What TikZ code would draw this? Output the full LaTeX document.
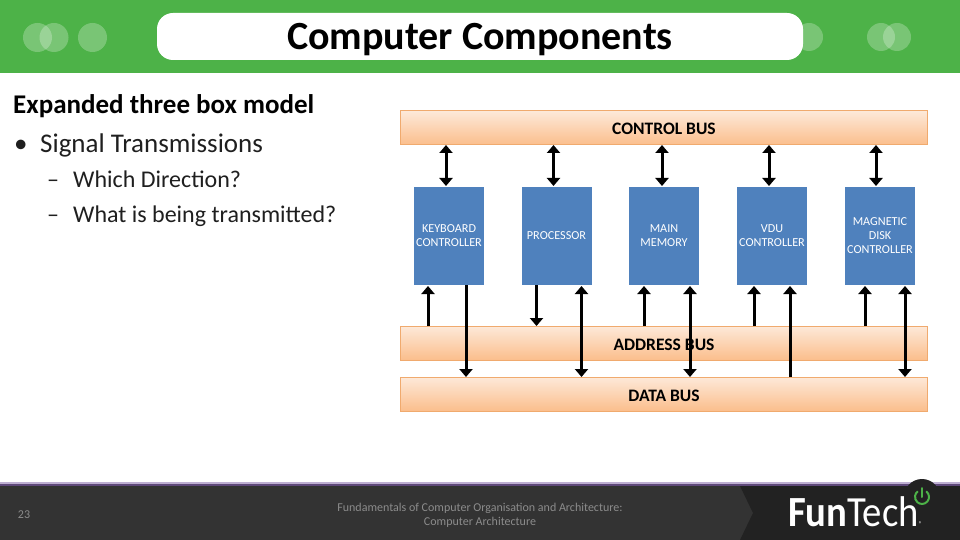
\documentclass[tikz,border=0pt]{standalone}
\usepackage{fontspec}
\setmainfont{Carlito}
\definecolor{ftgreen}{RGB}{77,178,72}
\definecolor{ftdark}{RGB}{51,51,51}
\definecolor{ftblack}{RGB}{34,34,34}
\definecolor{ftpurple}{RGB}{95,73,122}
\definecolor{ftlilac}{RGB}{190,175,210}
\definecolor{ftgray}{RGB}{140,140,140}
\definecolor{ftblue}{RGB}{79,129,189}
\definecolor{ftpeach}{RGB}{253,233,217}
\definecolor{ftorange}{RGB}{251,190,140}
\definecolor{ftedge}{RGB}{240,170,110}
\usetikzlibrary{arrows.meta, positioning}
\tikzset{
  busbox/.style={draw=ftedge, line width=1pt, top color=ftpeach, bottom color=ftorange,
    minimum width=527, minimum height=34, inner sep=0pt, outer sep=0pt,
    font=\fontsize{17.5}{17.5}\selectfont\bfseries, text=black},
  unitbox/.style={fill=ftblue, minimum width=70, minimum height=98, inner sep=0pt, outer sep=0pt,
    align=center, font=\fontsize{12.2}{14}\selectfont, text=white},
  upway/.style={line width=3pt, -{Triangle[width=13pt,length=8pt]}, shorten >=1pt},
  downway/.style={line width=3pt, -{Triangle[width=13pt,length=8pt]}},
  bothway/.style={line width=3pt, {Triangle[width=13pt,length=8pt]}-{Triangle[width=13pt,length=8pt]}},
  halo/.style={fill=white, fill opacity=0.25},
  buslabel/.style={inner sep=0pt, font=\fontsize{17.5}{17.5}\selectfont\bfseries, text=black},
  bodytext/.style={anchor=base west, inner sep=0pt, text=ftdark!60!black, font=\fontsize{24}{24}\selectfont},
  toptext/.style={bodytext, font=\fontsize{27}{27}\selectfont},
  foottext/.style={inner sep=0pt, text=ftgray, align=center, font=\fontsize{12}{14}\selectfont}
}

\begin{document}
\begin{tikzpicture}[x=1pt, y=-1pt]
  \useasboundingbox (0,0) rectangle (960,540);

  % Title band
  \fill[ftgreen] (0,0) rectangle (960,73);
  \fill[halo] (37.5,37.5) circle (14.5);
  \fill[halo] (54,37.5) circle (14.5);
  \fill[halo] (92.5,37.5) circle (14.5);
  \fill[halo] (809,37) circle (14);
  \fill[halo] (881,37) circle (14);
  \fill[halo] (897,37) circle (14);
  \node[fill=white, rounded corners=16, minimum width=646, minimum height=47, inner sep=0pt] (titlepill) at (480,36.5) {};
  \node[anchor=base, inner sep=0pt, font=\fontsize{40}{40}\selectfont\bfseries] (title) at (480,50) {Computer Components};

  % Left column
  \node[toptext, text=black, font=\fontsize{27}{27}\selectfont\bfseries] (heading) at (13,114) {Expanded three box model};
  \node[toptext] (bulletmark) at (14,153) {•};
  \node[toptext] (signal) at (40,153) {Signal Transmissions};
  \node[bodytext] (dashone) at (47,187) {–};
  \node[bodytext] (direction) at (73,187) {Which Direction?};
  \node[bodytext] (dashtwo) at (47,222) {–};
  \node[bodytext] (transmitted) at (73,222) {What is being transmitted?};

  % Buses
  \node[busbox] (ctrlbus) at (664,128) {};
  \node[busbox] (addrbus) at (664,343) {};
  \node[busbox] (databus) at (664,394) {};
  \node[buslabel] (ctrllabel) at (664,129) {CONTROL BUS};
  \node[buslabel] (addrlabel) at (664,345) {ADDRESS BUS};
  \node[buslabel] (datalabel) at (664,396) {DATA BUS};

  % Units
  \node[unitbox] (kbd) at (449,236) {KEYBOARD\\CONTROLLER};
  \node[unitbox] (proc) at (556.5,236) {PROCESSOR};
  \node[unitbox] (mem) at (664,236) {MAIN\\MEMORY};
  \node[unitbox] (vdu) at (772,236) {VDU\\CONTROLLER};
  \node[unitbox] (disk) at (880,236) {MAGNETIC\\DISK\\CONTROLLER};

  % Control bus lines
  \draw[bothway] ([xshift=-3]ctrlbus.south -| kbd.north) -- ([xshift=-3,yshift=1]kbd.north);
  \draw[bothway] ([xshift=-3]ctrlbus.south -| proc.north) -- ([xshift=-3,yshift=1]proc.north);
  \draw[bothway] ([xshift=-2]ctrlbus.south -| mem.north) -- ([xshift=-2,yshift=1]mem.north);
  \draw[bothway] ([xshift=-3]ctrlbus.south -| vdu.north) -- ([xshift=-3,yshift=1]vdu.north);
  \draw[bothway] ([xshift=-4]ctrlbus.south -| disk.north) -- ([xshift=-4,yshift=1]disk.north);

  % Address bus lines
  \draw[upway] ([xshift=-21]addrbus.north -| kbd.south) -- ([xshift=-21]kbd.south);
  \draw[downway] ([xshift=-20]proc.south) -- ([xshift=-20]addrbus.north -| proc.south);
  \draw[upway] ([xshift=-20]addrbus.north -| mem.south) -- ([xshift=-20]mem.south);
  \draw[upway] ([xshift=-18]addrbus.north -| vdu.south) -- ([xshift=-18]vdu.south);
  \draw[upway] ([xshift=-15]addrbus.north -| disk.south) -- ([xshift=-15]disk.south);

  % Data bus lines
  \draw[downway] ([xshift=17]kbd.south) -- ([xshift=17]databus.north -| kbd.south);
  \draw[bothway] ([xshift=25,yshift=-1]proc.south) -- ([xshift=25]databus.north -| proc.south);
  \draw[bothway] ([xshift=26,yshift=-1]mem.south) -- ([xshift=26]databus.north -| mem.south);
  \draw[upway] ([xshift=18]databus.north -| vdu.south) -- ([xshift=18]vdu.south);
  \draw[bothway] ([xshift=25,yshift=-1]disk.south) -- ([xshift=25]databus.north -| disk.south);

  % Footer
  \fill[ftlilac] (0,482) rectangle (960,484);
  \fill[ftpurple] (0,484) rectangle (960,486);
  \fill[ftdark] (0,486) rectangle (960,540);
  \fill[ftblack] (740,486) -- (753,513) -- (740,540) -- (960,540) -- (960,486) -- cycle;
  \fill[ftblack] (922,497) circle (18);
  \draw[ftgreen, line width=2pt, line cap=round] (926.5,491.6) arc (-50:230:7);
  \draw[ftgreen, line width=2pt, line cap=round] (922,488) -- (922,497);
  \node[foottext] (pagenum) at (24,515) {23};
  \node[foottext] (course) at (480,515) {Fundamentals of Computer Organisation and Architecture:\\Computer Architecture};
  \node[anchor=base west, inner sep=0pt, text=white, transform shape, xscale=0.9, font=\fontsize{43}{43}\selectfont] (logo) at (788,526) {\textbf{Fun}Tech\fontsize{7}{7}\selectfont ®};
\end{tikzpicture}
\end{document}
